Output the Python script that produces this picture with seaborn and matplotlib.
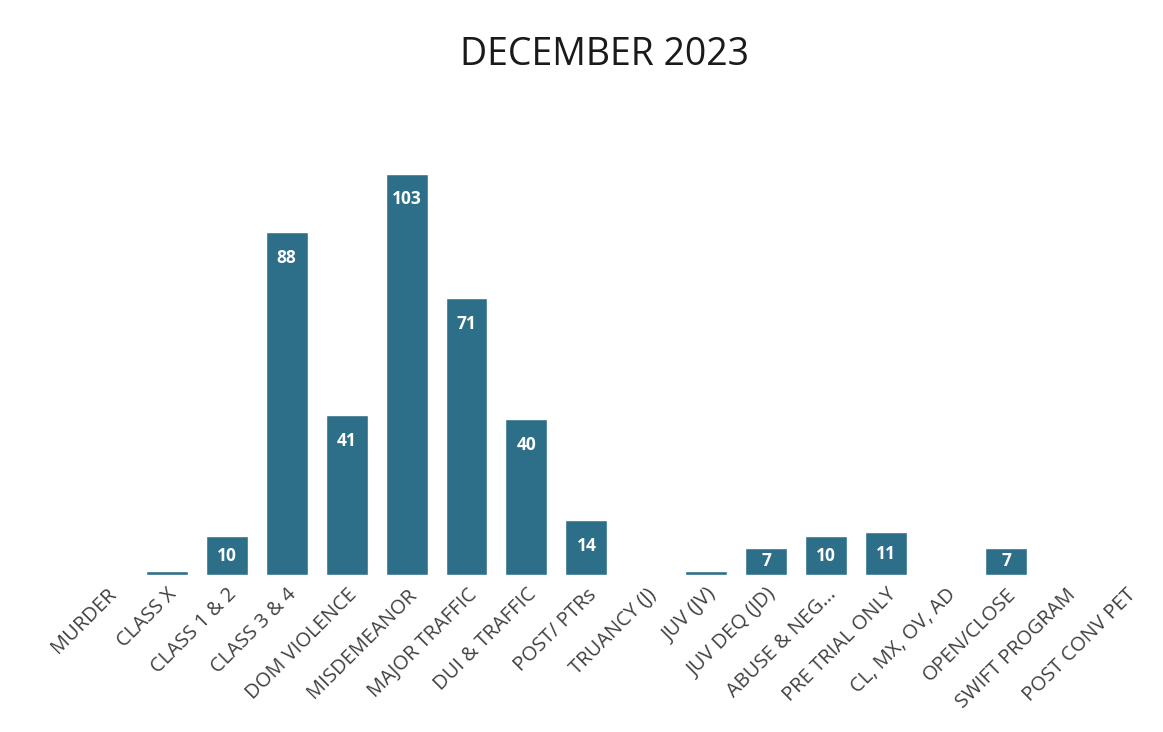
import matplotlib
matplotlib.use("Agg")
import matplotlib.pyplot as plt
import seaborn as sns
import pandas as pd

categories = ["MURDER", "CLASS X", "CLASS 1 & 2", "CLASS 3 & 4", "DOM VIOLENCE",
              "MISDEMEANOR", "MAJOR TRAFFIC", "DUI & TRAFFIC", "POST/ PTRs",
              "TRUANCY (J)", "JUV (JV)", "JUV DEQ (JD)", "ABUSE & NEG...",
              "PRE TRIAL ONLY", "CL, MX, OV, AD", "OPEN/CLOSE", "SWIFT PROGRAM",
              "POST CONV PET"]
values = [0, 1, 10, 88, 41, 103, 71, 40, 14, 0, 1, 7, 10, 11, 0, 7, 0, 0]
title = "DECEMBER 2023"

sns.set_theme(style="white")
plt.rcParams['font.family'] = ['Open Sans', 'DejaVu Sans']

df = pd.DataFrame({"cat": categories, "val": values})
fig = plt.figure(figsize=(11.63, 7.32), dpi=100)
ax = fig.add_axes([0.066, 0.2145, 0.928, 0.548])
sns.barplot(data=df, x="cat", y="val", color="#2d6f89", saturation=1,
            width=0.7, ax=ax)
ax.set_ylim(0, 103)
ax.set_xlim(-0.5, len(categories) - 0.5)
for i, v in enumerate(values):
    if v >= 5:
        ax.text(i, max(v / 2, v - 6.5), str(v), ha="center", va="center",
                color="white", fontsize=12.5, fontweight="bold")
ax.set_xlabel("")
ax.set_ylabel("")
ax.set_yticks([])
ax.set_xticks(range(len(categories)))
ax.set_xticklabels(categories, rotation=45, ha="right", rotation_mode="anchor",
                   fontsize=14.5, color="#404040")
ax.tick_params(axis="x", length=0, pad=7)
for s in ax.spines.values():
    s.set_visible(False)
fig.text(0.52, 0.925, title, ha="center", va="center", fontsize=27, color="#1a1a1a")
fig.savefig("out.png", dpi=100)
